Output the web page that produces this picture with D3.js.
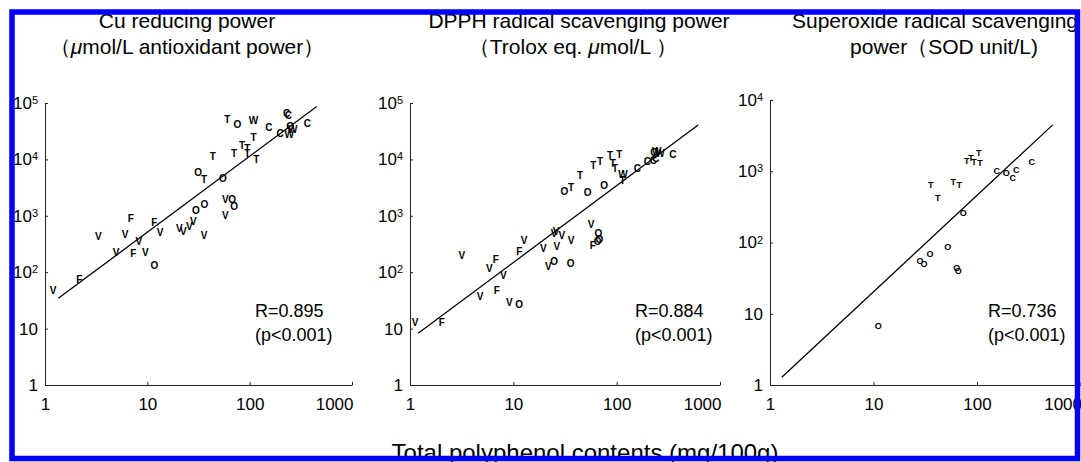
<!DOCTYPE html>
<html>
<head>
<meta charset="utf-8">
<script src="https://cdnjs.cloudflare.com/ajax/libs/d3/7.8.5/d3.min.js"></script>
<style>
body { margin: 0; background: #fff; }
text { font-family: "Liberation Sans", Arial, sans-serif; }
.mark { font-weight: bold; }
</style>
</head>
<body>
<div id="chart"></div>
<script>
// Cu reducing power (umol/L) vs total polyphenol (mg/100g)
var cuX = [1.2, 2.16, 3.32, 6.05, 6.88, 4.94, 8.24, 7.3, 9.57, 11.7, 11.7, 13.3, 20.6, 22.5, 25.8, 28.2, 29.9, 36.1, 35.8, 57.9, 67.3, 57.9, 70.4, 31.3, 35.8, 54.6, 43.6, 70.4, 84.3, 95, 95, 116, 109, 60.5, 75.8, 109, 154, 230, 239, 198, 244, 264, 248, 366];
var cuY = [47, 76, 426, 476, 903, 222, 347, 216, 225, 130, 767, 510, 600, 523, 659, 787, 1233, 1620, 444, 1960, 1960, 1033, 1450, 5810, 4440, 4620, 11500, 12800, 18000, 15700, 12800, 10000, 24300, 52000, 42400, 50000, 36500, 65700, 59500, 29000, 28200, 34200, 38000, 43700];
var cuLabel = ["V", "F", "V", "V", "F", "V", "V", "F", "V", "O", "F", "V", "V", "V", "V", "V", "O", "O", "V", "V", "O", "V", "O", "O", "T", "O", "T", "T", "T", "T", "T", "T", "T", "T", "O", "W", "C", "C", "C", "C", "W", "W", "O", "C"];
var cuFit = [1.362, 1.347];
var cuFitRange = [1.35, 453];
var cuStats = ["R=0.895", "(p<0.001)"];

// DPPH radical scavenging power (Trolox eq. umol/L)
var dpphX = [1.12, 2.03, 3.17, 5.86, 6.75, 8.0, 11.4, 12.7, 4.76, 6.9, 9.15, 11.4, 19.5, 24.8, 25.9, 29.4, 26.3, 36.2, 21.8, 24.8, 35.9, 56.5, 66.5, 58.7, 68, 65.6, 31.2, 36.2, 44.3, 52.5, 75.5, 59.5, 69, 86.3, 91.6, 106, 96.6, 115, 114, 159, 198, 227, 244, 230, 263, 349, 240];
var dpphY = [12.7, 12.7, 196, 117, 171, 89, 231, 362, 36.8, 48.3, 29.3, 27.3, 265, 490, 523, 457, 283, 372, 125, 158, 144, 716, 490, 295, 383, 357, 2670, 3200, 5290, 2610, 3420, 7740, 9130, 11600, 8530, 12300, 6950, 5510, 4320, 6950, 9370, 9750, 13700, 13100, 12800, 12500, 10500];
var dpphLabel = ["V", "F", "V", "V", "F", "V", "F", "V", "V", "F", "V", "O", "V", "V", "V", "V", "V", "V", "V", "O", "O", "V", "O", "F", "O", "O", "O", "T", "T", "O", "O", "T", "T", "T", "T", "T", "T", "W", "T", "C", "C", "C", "W", "O", "W", "C", "C"];
var dpphFit = [0.808, 1.364];
var dpphFitRange = [1.2, 614];
var dpphStats = ["R=0.884", "(p<0.001)"];

// Superoxide radical scavenging power (SOD unit/L)
var sodX = [11.1, 28.1, 30.8, 35.2, 52.1, 63.7, 66, 73.8, 35.7, 41.7, 59, 67.5, 79.5, 87.5, 93.6, 104, 107, 155, 192, 221, 240, 338];
var sodY = [6.8, 55, 51, 70.5, 87, 44, 39.8, 265, 656, 430, 713, 656, 1406, 1567, 1361, 1820, 1318, 1008, 954, 822, 1040, 1361];
var sodLabel = ["O", "O", "O", "O", "O", "O", "O", "O", "T", "T", "T", "T", "T", "T", "T", "T", "T", "C", "O", "C", "C", "C"];
var sodFit = [-0.045, 1.353];
var sodFitRange = [1.3, 539];
var sodStats = ["R=0.736", "(p<0.001)"];

var xTicks = [1, 10, 100, 1000];
var yTicks5 = [1, 10, 100, 1000, 10000, 100000];
var yTicks4 = [1, 10, 100, 1000, 10000];
var xTitle = "Total polyphenol contents (mg/100g)";

var svg = d3.select("#chart").append("svg")
    .attr("width", 1081)
    .attr("height", 462);

var baseY = 385;

function drawPanel(p) {
    var x = d3.scaleLog().domain([1, 1000]).range([p.left, p.left + p.w]);
    var y = d3.scaleLog().domain([1, p.yTicks[p.yTicks.length - 1]]).range([baseY, baseY - p.h]);
    var g = svg.append("g").attr("color", "#222");

    // x axis; last label pulled inside like the original
    var xa = g.append("g")
        .attr("transform", "translate(0," + baseY + ")")
        .call(d3.axisBottom(x).tickValues(xTicks).tickFormat(d3.format("d"))
            .tickSizeInner(-3).tickSizeOuter(0).tickPadding(13));
    xa.selectAll("text").attr("font-size", 17).attr("fill", "#000")
        .attr("font-family", "Liberation Sans, Arial, sans-serif")
        .filter(function(d) { return d === 1000; })
        .attr("text-anchor", "end")
        .attr("x", 1);

    // y axis, powers of ten as superscripts
    var ya = g.append("g")
        .attr("transform", "translate(" + p.left + ",0)")
        .call(d3.axisLeft(y).tickValues(p.yTicks).tickFormat(d3.format("d"))
            .tickSizeInner(-3).tickSizeOuter(0).tickPadding(7));
    ya.selectAll("text").attr("font-size", 17).attr("fill", "#000")
        .attr("font-family", "Liberation Sans, Arial, sans-serif")
        .each(function(d) {
            var e = Math.round(Math.log10(d));
            if (e >= 2) {
                var t = d3.select(this).text("10");
                t.append("tspan").attr("dy", "-0.45em").attr("font-size", 11).text(e);
            }
        });

    // markers
    g.selectAll("text.mark")
        .data(d3.range(p.xs.length))
        .enter().append("text")
        .attr("class", "mark")
        .attr("x", function(i) { return x(p.xs[i]); })
        .attr("y", function(i) { return y(p.ys[i]); })
        .attr("dy", "0.36em")
        .attr("text-anchor", "middle")
        .attr("font-size", p.markSize)
        .text(function(i) { return p.labels[i]; });

    // regression line
    var fitPts = p.fitRange.map(function(v) {
        return [v, Math.pow(10, p.fit[0] + p.fit[1] * Math.log10(v))];
    });
    g.append("path")
        .datum(fitPts)
        .attr("fill", "none")
        .attr("stroke", "#000")
        .attr("stroke-width", 1.3)
        .attr("d", d3.line().x(function(d) { return x(d[0]); }).y(function(d) { return y(d[1]); }));

    // stats
    g.selectAll("text.stat")
        .data(p.stats)
        .enter().append("text")
        .attr("class", "stat")
        .attr("x", p.statX)
        .attr("y", function(d, i) { return 317 + i * 24; })
        .attr("font-size", 18)
        .text(function(d) { return d; });

    // title (mu drawn italic as in the source)
    var tt = g.append("text").attr("font-size", 21).attr("text-anchor", "middle");
    p.title.forEach(function(line, i) {
        var row = tt.append("tspan").attr("x", p.titleX[i]).attr("y", 28 + i * 26);
        line.split(/(μ)/).forEach(function(part) {
            if (!part) return;
            var s = row.append("tspan").text(part);
            if (part === "μ") s.attr("font-style", "italic");
        });
    });
}

drawPanel({left: 45, w: 307, h: 282, yTicks: yTicks5, xs: cuX, ys: cuY, labels: cuLabel,
    fit: cuFit, fitRange: cuFitRange, stats: cuStats, statX: 255, markSize: 10,
    title: ["Cu reducing power", "（μmol/L antioxidant power）"], titleX: [187, 187]});
drawPanel({left: 410, w: 310, h: 282, yTicks: yTicks5, xs: dpphX, ys: dpphY, labels: dpphLabel,
    fit: dpphFit, fitRange: dpphFitRange, stats: dpphStats, statX: 635, markSize: 10,
    title: ["DPPH radical scavenging power", "（Trolox eq. μmol/L ）"], titleX: [579, 573]});
drawPanel({left: 770, w: 310.5, h: 285, yTicks: yTicks4, xs: sodX, ys: sodY, labels: sodLabel,
    fit: sodFit, fitRange: sodFitRange, stats: sodStats, statX: 988, markSize: 9,
    title: ["Superoxide radical scavenging", "power（SOD unit/L)"], titleX: [935, 944]});

// shared x title
svg.append("text")
    .attr("x", 585)
    .attr("y", 461)
    .attr("text-anchor", "middle")
    .attr("font-size", 24)
    .text(xTitle);

// blue frame
svg.append("rect")
    .attr("x", 12)
    .attr("y", 12)
    .attr("width", 1065.5)
    .attr("height", 446.5)
    .attr("fill", "none")
    .attr("stroke", "#0000ff")
    .attr("stroke-width", 5.5);
</script>
</body>
</html>
